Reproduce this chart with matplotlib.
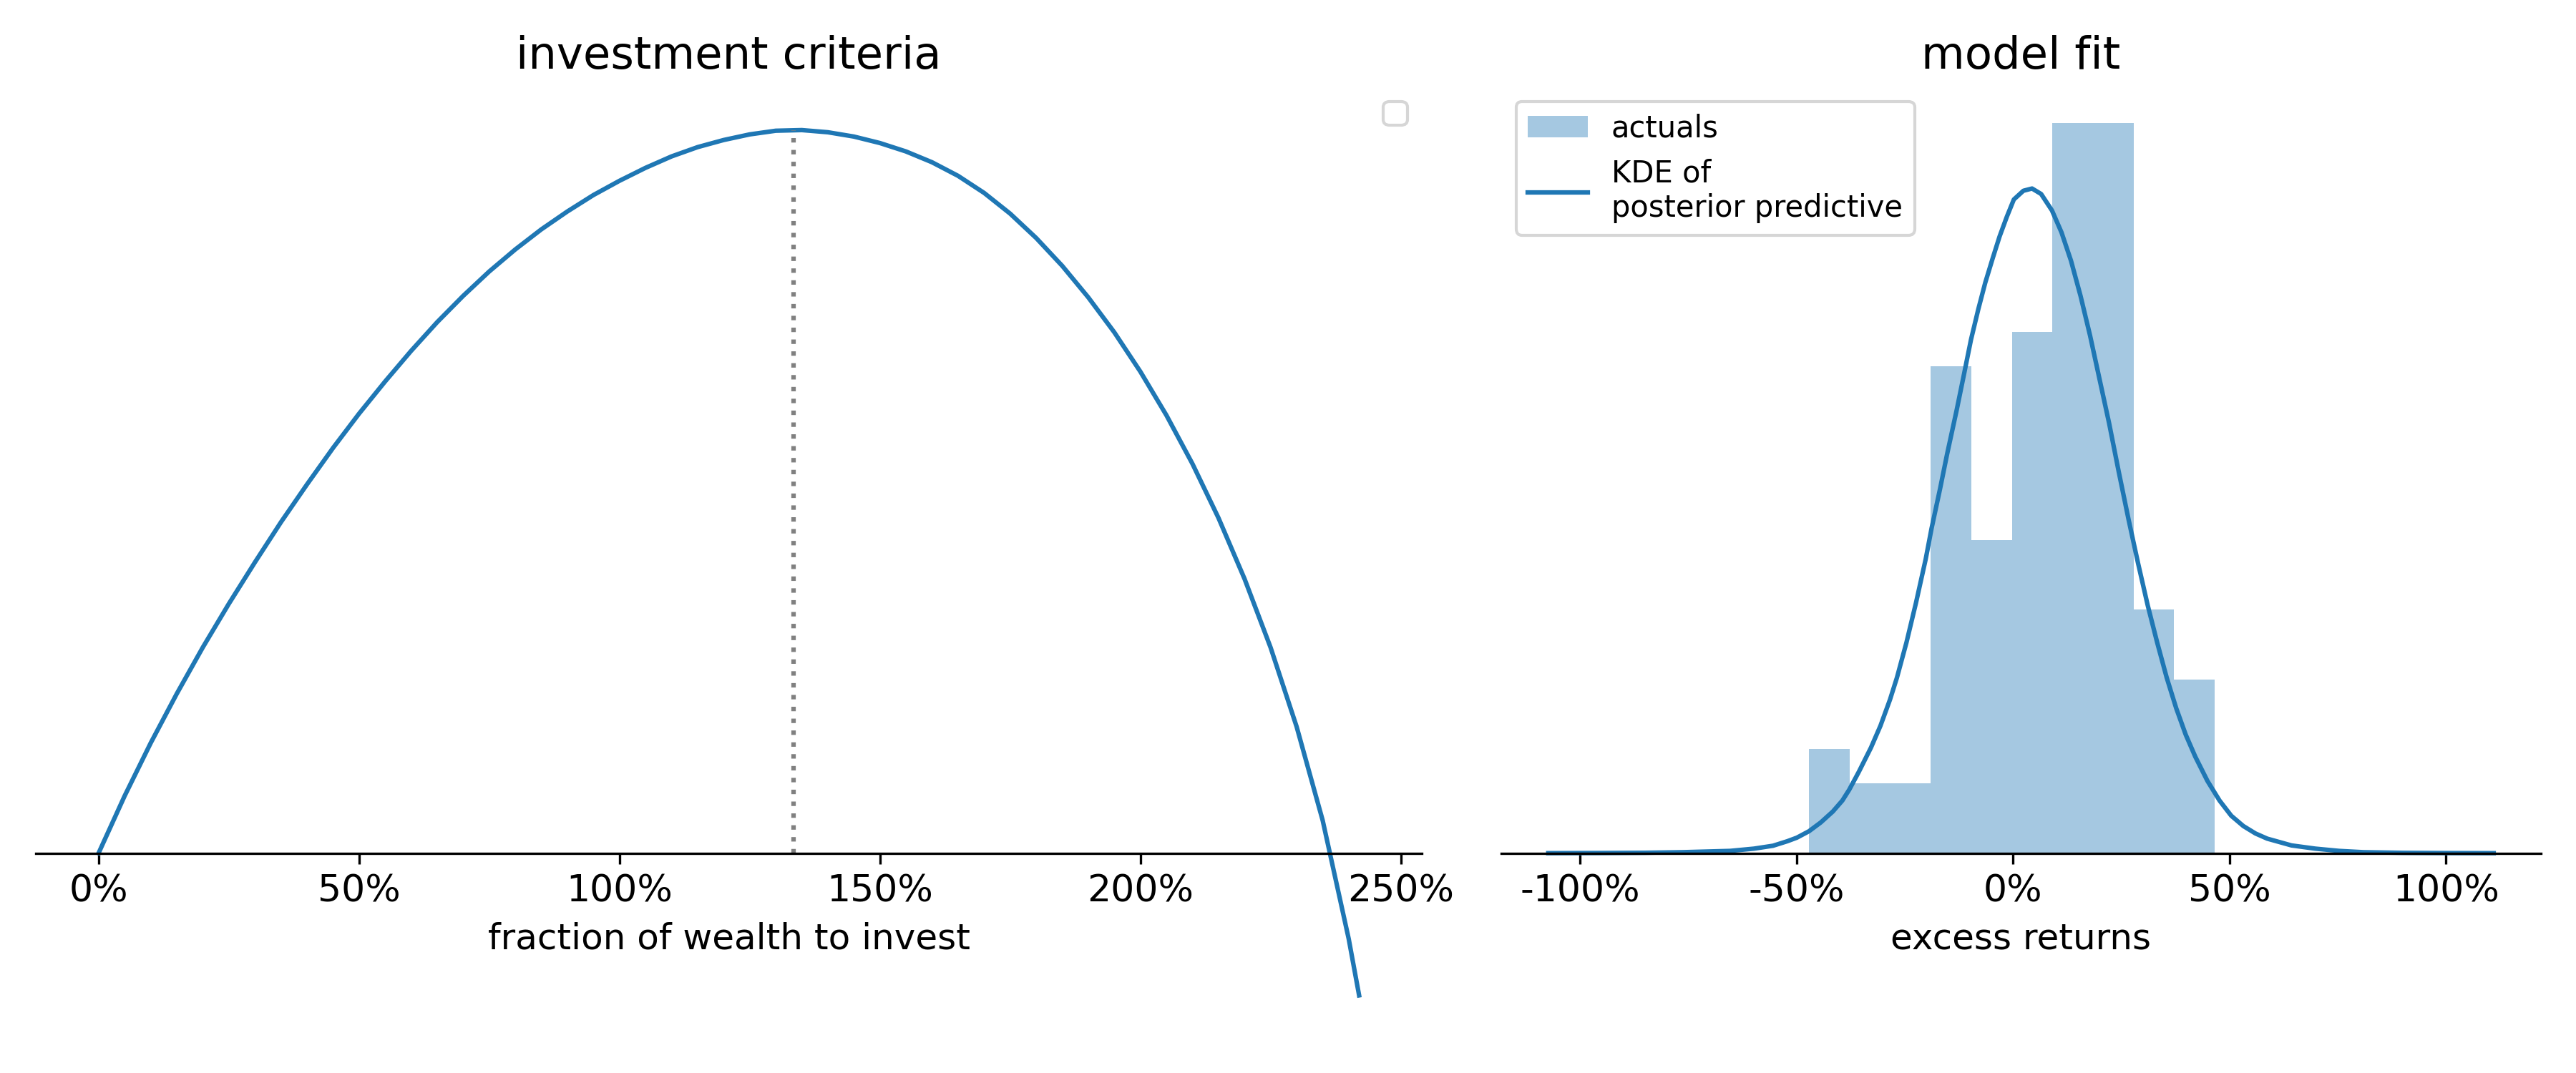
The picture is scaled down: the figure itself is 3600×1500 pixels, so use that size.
import matplotlib
matplotlib.use("Agg")
import matplotlib.pyplot as plt
import matplotlib.ticker as mtick
import numpy as np

plt.rcParams['axes.unicode_minus'] = False

# fraction of wealth invested vs expected log growth
fractions = [0.00, 0.05, 0.10, 0.15, 0.20, 0.25, 0.30, 0.35, 0.40, 0.45,
             0.50, 0.55, 0.60, 0.65, 0.70, 0.75, 0.80, 0.85, 0.90, 0.95,
             1.00, 1.05, 1.10, 1.15, 1.20, 1.25, 1.30, 1.35, 1.40, 1.45,
             1.50, 1.55, 1.60, 1.65, 1.70, 1.75, 1.80, 1.85, 1.90, 1.95,
             2.00, 2.05, 2.10, 2.15, 2.20, 2.25, 2.30, 2.35, 2.40, 2.42]
growth = [0.000, 0.265, 0.510, 0.738, 0.953, 1.155, 1.347, 1.533, 1.708, 1.877,
          2.036, 2.185, 2.327, 2.460, 2.582, 2.695, 2.797, 2.890, 2.973, 3.049,
          3.115, 3.175, 3.228, 3.271, 3.304, 3.330, 3.347, 3.350, 3.340, 3.320,
          3.290, 3.251, 3.201, 3.138, 3.059, 2.963, 2.850, 2.721, 2.575, 2.413,
          2.231, 2.029, 1.804, 1.553, 1.271, 0.953, 0.586, 0.152, -0.397, -0.659]
best_fraction = 1.334
best_growth = 3.351

# histogram of actual excess returns
bin_edges = [-0.471, -0.3773, -0.2836, -0.1899, -0.0962, -0.0025,
             0.0912, 0.1849, 0.2786, 0.3723, 0.466]
bin_counts = [3, 2, 2, 14, 9, 15, 21, 21, 7, 5]

# KDE of posterior predictive
kde_x = [-1.073, -0.95, -0.85, -0.763, -0.653, -0.598, -0.554, -0.521, -0.499, -0.471,
         -0.444, -0.416, -0.394, -0.378, -0.356, -0.328, -0.306, -0.284, -0.268, -0.246,
         -0.224, -0.2015, -0.188, -0.1685, -0.152, -0.130, -0.1134, -0.097, -0.080, -0.064,
         -0.047, -0.031, -0.0143, 0.002, 0.024, 0.044, 0.065, 0.090, 0.112, 0.134,
         0.156, 0.178, 0.200, 0.222, 0.244, 0.267, 0.289, 0.311, 0.333, 0.355,
         0.377, 0.399, 0.421, 0.449, 0.477, 0.504, 0.532, 0.560, 0.587, 0.643,
         0.698, 0.753, 0.809, 0.900, 1.000, 1.110]
kde_y = [0.000, 0.0005, 0.0012, 0.003, 0.007, 0.014, 0.023, 0.037, 0.048, 0.068,
         0.095, 0.129, 0.163, 0.197, 0.252, 0.327, 0.395, 0.476, 0.544, 0.653,
         0.776, 0.912, 1.007, 1.129, 1.238, 1.374, 1.483, 1.592, 1.687, 1.769,
         1.844, 1.912, 1.973, 2.027, 2.054, 2.061, 2.044, 1.993, 1.925, 1.837,
         1.728, 1.605, 1.469, 1.333, 1.184, 1.034, 0.898, 0.769, 0.653, 0.544,
         0.449, 0.367, 0.299, 0.224, 0.163, 0.116, 0.084, 0.061, 0.045, 0.024,
         0.014, 0.007, 0.003, 0.001, 0.0003, 0.000]

pct = mtick.FuncFormatter(lambda x, pos: '{:.0%}'.format(x))

fig = plt.figure(figsize=(12, 5), dpi=300)
gs = fig.add_gridspec(1, 2, width_ratios=[4, 3], left=0.0138, right=0.9864,
                      bottom=0.032, top=0.9193, wspace=0.065)
ax1 = fig.add_subplot(gs[0])
ax2 = fig.add_subplot(gs[1])

# left: investment criteria
ax1.plot(fractions, growth, color='C0')
ax1.vlines(best_fraction, 0, best_growth, color='grey', linestyle=':', lw=1.5)
ax1.set_title('investment criteria', fontsize=15)
ax1.set_xlabel('fraction of wealth to invest', fontsize=12)
ax1.legend(fontsize=10)

# right: model fit
ax2.hist(bin_edges[:-1], bins=bin_edges, weights=bin_counts, density=True,
         color='C0', alpha=0.4, label='actuals')
ax2.plot(kde_x, kde_y, color='C0', label='KDE of\nposterior predictive')
ax2.set_title('model fit', fontsize=15)
ax2.set_xlabel('excess returns', fontsize=12)
ax2.legend(loc='upper left', fontsize=10)

for ax in (ax1, ax2):
    ax.spines['bottom'].set_position('zero')
    for s in ('left', 'right', 'top'):
        ax.spines[s].set_visible(False)
    ax.set_yticks([])
    ax.xaxis.set_major_formatter(pct)
    ax.tick_params(axis='x', labelsize=12.5)

# keep the zero line at the same height in both panels
lo, hi = ax1.get_ylim()
frac = -lo / (hi - lo)
top = ax2.get_ylim()[1]
ax2.set_ylim(-top * frac / (1 - frac), top)

fig.savefig('out.png', dpi=300)
